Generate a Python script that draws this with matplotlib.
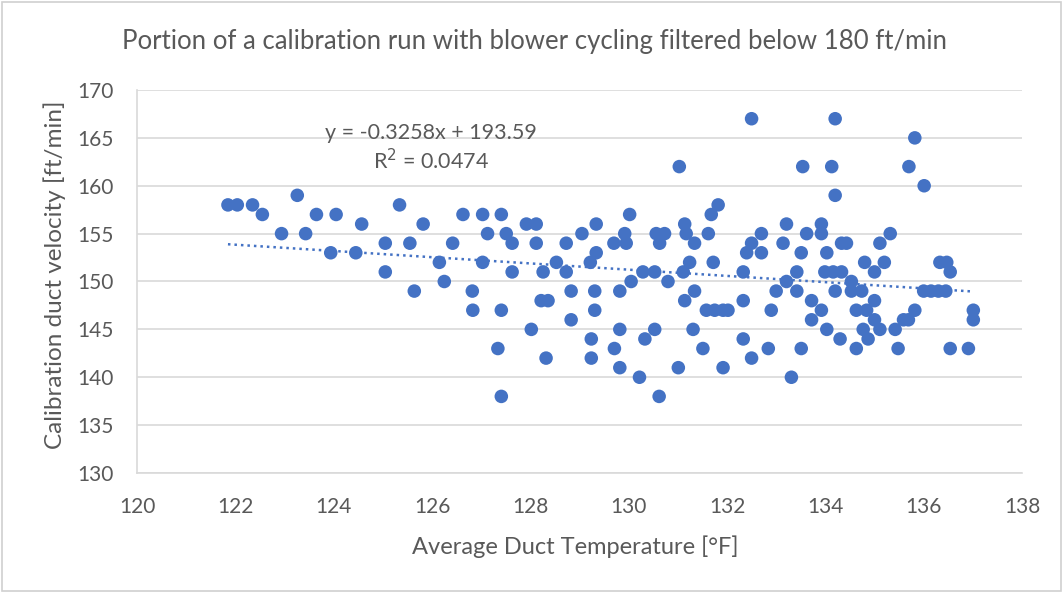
import matplotlib
matplotlib.use("Agg")
import matplotlib.pyplot as plt
import numpy as np
from matplotlib.patches import Rectangle

# ---- data ----
temps = [121.85, 122.04, 122.35, 122.55, 122.94, 123.26, 123.43, 123.65, 123.94, 124.05,
         124.45, 124.57, 125.05, 125.05, 125.34, 125.55, 125.64, 125.82, 126.15, 126.25,
         126.42, 126.63, 126.82, 126.83, 127.03, 127.03, 127.13, 127.34, 127.41, 127.41,
         127.41, 127.51, 127.63, 127.63, 127.92, 128.02, 128.12, 128.12, 128.22, 128.26,
         128.32, 128.36, 128.53, 128.73, 128.73, 128.83, 128.83, 129.05, 129.22, 129.24,
         129.24, 129.31, 129.31, 129.34, 129.34, 129.71, 129.70, 129.82, 129.82, 129.82,
         129.92, 129.95, 130.02, 130.05, 130.22, 130.29, 130.33, 130.53, 130.53, 130.56,
         130.62, 130.63, 130.73, 130.80, 131.01, 131.03, 131.11, 131.14, 131.14, 131.17,
         131.24, 131.31, 131.34, 131.34, 131.51, 131.58, 131.62, 131.68, 131.72, 131.75,
         131.82, 131.92, 131.92, 132.02, 132.33, 132.33, 132.33, 132.40, 132.50, 132.50,
         132.50, 132.70, 132.70, 132.84, 132.90, 133.00, 133.14, 133.21, 133.21, 133.31,
         133.42, 133.42, 133.51, 133.51, 133.54, 133.62, 133.72, 133.72, 133.92, 133.92,
         133.92, 133.99, 134.03, 134.03, 134.13, 134.16, 134.20, 134.20, 134.20, 134.30,
         134.33, 134.33, 134.43, 134.53, 134.53, 134.63, 134.63, 134.74, 134.77, 134.80,
         134.84, 134.87, 135.00, 135.00, 135.00, 135.11, 135.11, 135.20, 135.32, 135.42,
         135.48, 135.59, 135.69, 135.70, 135.82, 135.82, 136.00, 136.01, 136.15, 136.30,
         136.33, 136.45, 136.47, 136.54, 136.54, 136.91, 137.01, 137.01]
velocity = [158, 158, 158, 157, 155, 159, 155, 157, 153, 157,
            153, 156, 154, 151, 158, 154, 149, 156, 152, 150,
            154, 157, 149, 147, 157, 152, 155, 143, 157, 147,
            138, 155, 154, 151, 156, 145, 156, 154, 148, 151,
            142, 148, 152, 154, 151, 149, 146, 155, 152, 144,
            142, 149, 147, 156, 153, 143, 154, 149, 145, 141,
            155, 154, 157, 150, 140, 151, 144, 151, 145, 155,
            138, 154, 155, 150, 141, 162, 151, 156, 148, 155,
            152, 145, 154, 149, 143, 147, 155, 157, 152, 147,
            158, 147, 141, 147, 151, 148, 144, 153, 167, 154,
            142, 155, 153, 143, 147, 149, 154, 156, 150, 140,
            151, 149, 153, 143, 162, 155, 148, 146, 156, 155,
            147, 151, 153, 145, 162, 151, 167, 159, 149, 144,
            154, 151, 154, 150, 149, 147, 143, 149, 145, 152,
            147, 144, 151, 148, 146, 154, 145, 152, 155, 145,
            143, 146, 146, 162, 165, 147, 149, 160, 149, 149,
            152, 149, 152, 151, 143, 143, 147, 146]

trend_slope = -0.3258
trend_intercept = 193.59
r_squared = 0.0474

title = "Portion of a calibration run with blower cycling filtered below 180 ft/min"
x_label = "Average Duct Temperature [°F]"
y_label = "Calibration duct velocity [ft/min]"
x_ticks = [120, 122, 124, 126, 128, 130, 132, 134, 136, 138]
y_ticks = [130, 135, 140, 145, 150, 155, 160, 165, 170]

# ---- style ----
plt.rcParams['font.family'] = ['Lato', 'DejaVu Sans']
blue = '#4472C4'
txt = '#595959'
grid = '#D9D9D9'

W, H = 1064, 593
fig = plt.figure(figsize=(W / 100, H / 100), dpi=100)
ax = fig.add_axes([137 / W, 1 - 473 / H, (1022 - 137) / W, (473 - 90) / H])

ax.scatter(temps, velocity, s=95, color=blue, edgecolors='none', zorder=3)

xt = np.array([min(temps), max(temps)])
ax.plot(xt, trend_slope * xt + trend_intercept, linestyle=(0, (1, 1.6)),
        color=blue, linewidth=1.8, zorder=2)

ax.set_xlim(120, 138)
ax.set_ylim(130, 170)
ax.set_xticks(x_ticks)
ax.set_yticks(y_ticks)
ax.tick_params(axis='both', length=0, colors=txt, labelsize=15)
ax.tick_params(axis='x', pad=17)
ax.tick_params(axis='y', pad=17)
ax.grid(axis='y', color=grid, linewidth=1.2, zorder=0)
ax.set_axisbelow(True)
for s in ['top', 'right']:
    ax.spines[s].set_visible(False)
for s in ['left', 'bottom']:
    ax.spines[s].set_color(grid)
    ax.spines[s].set_linewidth(1.2)

fig.text(575 / W, 1 - 547 / H, x_label, ha='center', va='center', color=txt, fontsize=17)
fig.text(55 / W, 1 - 275 / H, y_label, ha='center', va='center', color=txt,
         fontsize=17.5, rotation=90)
fig.text(534 / W, 1 - 42 / H, title, ha='center', va='center', color=txt, fontsize=18.5)

fig.text(431 / W, 1 - 133 / H, f"y = {trend_slope}x + {trend_intercept}",
         ha='center', va='center', color=txt, fontsize=15.5)
fig.text(431 / W, 1 - 161 / H, f"R$^2$ = {r_squared}", ha='center',
         va='center', color=txt, fontsize=15.5)

fig.patches.append(Rectangle((0.002, 0.003), 0.995, 0.994, transform=fig.transFigure,
                             fill=False, edgecolor='#D0D0D0', linewidth=1.2))

fig.savefig('out.png', dpi=100, facecolor='white')
